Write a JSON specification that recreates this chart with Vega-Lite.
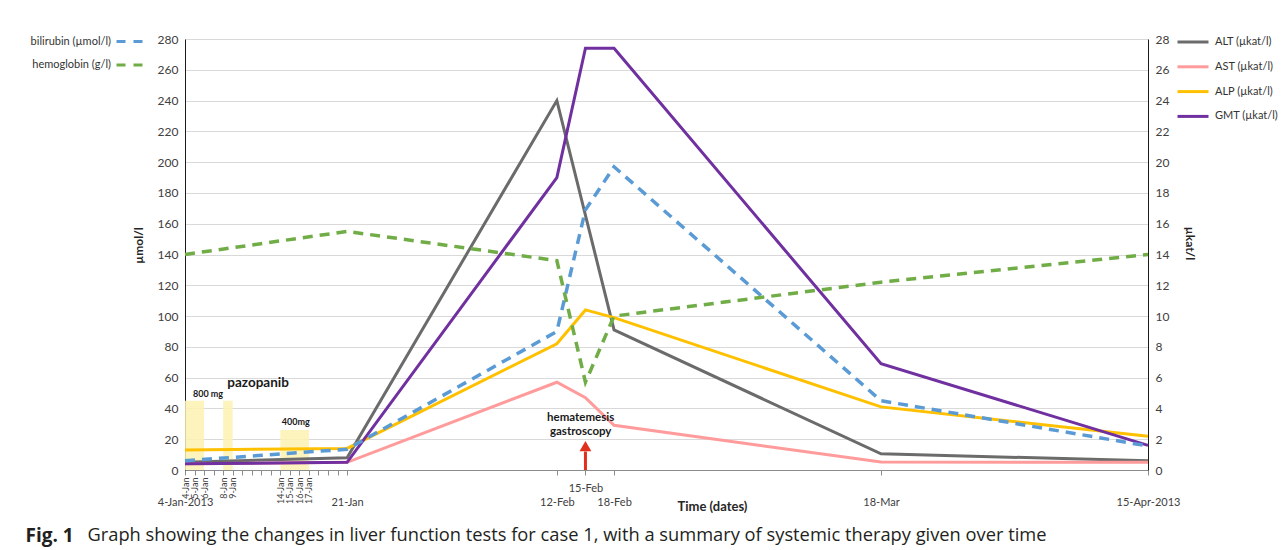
{
  "$schema": "https://vega.github.io/schema/vega-lite/v6.json",
  "width": 963,
  "height": 431,
  "autosize": {"type": "none"},
  "padding": {"left": 185, "top": 39, "right": 139, "bottom": 80},
  "background": "white",
  "config": {
    "view": {"stroke": null},
    "font": "Lato",
    "axis": {"labelColor": "#404040", "labelFont": "Lato", "titleColor": "#262626"},
    "legend": {"labelFont": "Lato"}
  },
  "datasets": {
    "left": [
      {"date": "2013-01-04", "test": "bilirubin (µmol/l)", "value": 6},
      {"date": "2013-01-21", "test": "bilirubin (µmol/l)", "value": 13.5},
      {"date": "2013-02-12", "test": "bilirubin (µmol/l)", "value": 90},
      {"date": "2013-02-15", "test": "bilirubin (µmol/l)", "value": 169},
      {"date": "2013-02-18", "test": "bilirubin (µmol/l)", "value": 197},
      {"date": "2013-03-18", "test": "bilirubin (µmol/l)", "value": 45},
      {"date": "2013-04-15", "test": "bilirubin (µmol/l)", "value": 15.6},
      {"date": "2013-01-04", "test": "hemoglobin (g/l)", "value": 140},
      {"date": "2013-01-21", "test": "hemoglobin (g/l)", "value": 155},
      {"date": "2013-02-12", "test": "hemoglobin (g/l)", "value": 136},
      {"date": "2013-02-15", "test": "hemoglobin (g/l)", "value": 57},
      {"date": "2013-02-18", "test": "hemoglobin (g/l)", "value": 100},
      {"date": "2013-03-18", "test": "hemoglobin (g/l)", "value": 122},
      {"date": "2013-04-15", "test": "hemoglobin (g/l)", "value": 140}
    ],
    "right": [
      {"date": "2013-01-04", "test": "ALT (µkat/l)", "value": 0.5},
      {"date": "2013-01-21", "test": "ALT (µkat/l)", "value": 0.8},
      {"date": "2013-02-12", "test": "ALT (µkat/l)", "value": 24},
      {"date": "2013-02-18", "test": "ALT (µkat/l)", "value": 9.1},
      {"date": "2013-03-18", "test": "ALT (µkat/l)", "value": 1.05},
      {"date": "2013-04-15", "test": "ALT (µkat/l)", "value": 0.6},
      {"date": "2013-01-04", "test": "AST (µkat/l)", "value": 0.4},
      {"date": "2013-01-21", "test": "AST (µkat/l)", "value": 0.5},
      {"date": "2013-02-12", "test": "AST (µkat/l)", "value": 5.7},
      {"date": "2013-02-15", "test": "AST (µkat/l)", "value": 4.7},
      {"date": "2013-02-18", "test": "AST (µkat/l)", "value": 2.9},
      {"date": "2013-03-18", "test": "AST (µkat/l)", "value": 0.52},
      {"date": "2013-04-15", "test": "AST (µkat/l)", "value": 0.5},
      {"date": "2013-01-04", "test": "ALP (µkat/l)", "value": 1.3},
      {"date": "2013-01-21", "test": "ALP (µkat/l)", "value": 1.4},
      {"date": "2013-02-12", "test": "ALP (µkat/l)", "value": 8.2},
      {"date": "2013-02-15", "test": "ALP (µkat/l)", "value": 10.4},
      {"date": "2013-02-18", "test": "ALP (µkat/l)", "value": 9.9},
      {"date": "2013-03-18", "test": "ALP (µkat/l)", "value": 4.1},
      {"date": "2013-04-15", "test": "ALP (µkat/l)", "value": 2.2},
      {"date": "2013-01-04", "test": "GMT (µkat/l)", "value": 0.4},
      {"date": "2013-01-21", "test": "GMT (µkat/l)", "value": 0.5},
      {"date": "2013-02-12", "test": "GMT (µkat/l)", "value": 19},
      {"date": "2013-02-15", "test": "GMT (µkat/l)", "value": 27.4},
      {"date": "2013-02-18", "test": "GMT (µkat/l)", "value": 27.4},
      {"date": "2013-03-18", "test": "GMT (µkat/l)", "value": 6.9},
      {"date": "2013-04-15", "test": "GMT (µkat/l)", "value": 1.6}
    ],
    "therapy": [
      {"start": "2013-01-04", "end": "2013-01-06", "dose": "800 mg", "level": 45},
      {"start": "2013-01-08", "end": "2013-01-09", "dose": "800 mg", "level": 45},
      {"start": "2013-01-14", "end": "2013-01-17", "dose": "400mg", "level": 26}
    ],
    "notes": [
      {"date": "2013-01-06T10:00:00Z", "value": 49.4, "label": "800 mg"},
      {"date": "2013-01-11T16:00:00Z", "value": 56.5, "label": "pazopanib"},
      {"date": "2013-01-15T15:00:00Z", "value": 31.2, "label": "400mg"},
      {"date": "2013-02-14T12:00:00Z", "value": 33.8, "label": "hematemesis\ngastroscopy"}
    ],
    "event": [
      {"date": "2013-02-15", "event": "hematemesis, gastroscopy"}
    ]
  },
  "layer": [
    {
      "data": {"name": "therapy"},
      "mark": {"type": "rect", "color": "#fdf1b0", "opacity": 0.85},
      "encoding": {
        "x": {
          "field": "start", "type": "temporal",
          "scale": {"type": "utc", "nice": false, "domain": [{"year": 2013, "month": 1, "date": 4, "utc": true}, {"year": 2013, "month": 4, "date": 15, "utc": true}]},
          "axis": {
            "orient": "bottom",
            "values": [
              {"year": 2013, "month": 1, "date": 4, "utc": true}, {"year": 2013, "month": 1, "date": 5, "utc": true},
              {"year": 2013, "month": 1, "date": 6, "utc": true}, {"year": 2013, "month": 1, "date": 7, "utc": true},
              {"year": 2013, "month": 1, "date": 8, "utc": true}, {"year": 2013, "month": 1, "date": 9, "utc": true},
              {"year": 2013, "month": 1, "date": 10, "utc": true}, {"year": 2013, "month": 1, "date": 11, "utc": true},
              {"year": 2013, "month": 1, "date": 12, "utc": true}, {"year": 2013, "month": 1, "date": 13, "utc": true},
              {"year": 2013, "month": 1, "date": 14, "utc": true}, {"year": 2013, "month": 1, "date": 15, "utc": true},
              {"year": 2013, "month": 1, "date": 16, "utc": true}, {"year": 2013, "month": 1, "date": 17, "utc": true},
              {"year": 2013, "month": 1, "date": 18, "utc": true}, {"year": 2013, "month": 1, "date": 19, "utc": true},
              {"year": 2013, "month": 1, "date": 20, "utc": true}, {"year": 2013, "month": 1, "date": 21, "utc": true},
              {"year": 2013, "month": 2, "date": 12, "utc": true}, {"year": 2013, "month": 2, "date": 15, "utc": true},
              {"year": 2013, "month": 2, "date": 18, "utc": true}, {"year": 2013, "month": 3, "date": 18, "utc": true},
              {"year": 2013, "month": 4, "date": 15, "utc": true}
            ],
            "labelExpr": "utcmonth(datum.value) == 0 && indexof([4,5,6,8,9,14,15,16,17], utcdate(datum.value)) >= 0 ? utcFormat(datum.value, '%-d-%b') : ''",
            "labelAngle": -90,
            "labelFontSize": 9,
            "labelPadding": 2,
            "labelOverlap": false,
            "labelFlush": false,
            "tickSize": 5,
            "tickColor": "#8c8c8c",
            "domainColor": "#8c8c8c",
            "grid": false,
            "title": "Time (dates)",
            "titleX": 527,
            "titleY": 36,
            "titleFontSize": 13,
            "titleFontWeight": "bold",
            "titleBaseline": "middle"
          }
        },
        "x2": {"field": "end"},
        "y": {
          "field": "level", "type": "quantitative",
          "scale": {"domain": [0, 280], "nice": false},
          "axis": {
            "values": [0, 20, 40, 60, 80, 100, 120, 140, 160, 180, 200, 220, 240, 260, 280],
            "grid": true, "gridColor": "#d9d9d9", "ticks": false,
            "domainColor": "#1a1a1a", "labelPadding": 7, "labelFontSize": 12,
            "title": "µmol/l", "titleX": -40, "titleY": 206, "titleFontSize": 12, "titleFontWeight": "bold"
          }
        },
        "y2": {"datum": 0}
      }
    },
    {
      "data": {"name": "right"},
      "mark": {"type": "line", "strokeWidth": 3},
      "encoding": {
        "x": {
          "field": "date", "type": "temporal",
          "scale": {"type": "utc", "nice": false, "domain": [{"year": 2013, "month": 1, "date": 4, "utc": true}, {"year": 2013, "month": 4, "date": 15, "utc": true}]},
          "axis": {
            "orient": "bottom",
            "values": [
              {"year": 2013, "month": 1, "date": 4, "utc": true}, {"year": 2013, "month": 1, "date": 21, "utc": true},
              {"year": 2013, "month": 2, "date": 12, "utc": true}, {"year": 2013, "month": 2, "date": 18, "utc": true},
              {"year": 2013, "month": 3, "date": 18, "utc": true}, {"year": 2013, "month": 4, "date": 15, "utc": true}
            ],
            "labelExpr": "utcmonth(datum.value) == 0 && utcdate(datum.value) == 4 ? '4-Jan-2013' : utcmonth(datum.value) == 3 ? '15-Apr-2013' : utcFormat(datum.value, '%-d-%b')",
            "ticks": false, "domain": false, "grid": false,
            "labelPadding": 26, "labelFontSize": 11, "labelFlush": false, "labelOverlap": false,
            "title": "Fig. 1", "titleX": -160, "titleY": 65, "titleAlign": "left", "titleAnchor": "start",
            "titleBaseline": "middle", "titleFont": "Open Sans", "titleFontSize": 19, "titleFontWeight": "bold", "titleColor": "#231f20"
          }
        },
        "y": {
          "field": "value", "type": "quantitative",
          "scale": {"domain": [0, 28], "nice": false},
          "axis": {
            "orient": "right",
            "values": [0, 2, 4, 6, 8, 10, 12, 14, 16, 18, 20, 22, 24, 26, 28],
            "grid": false, "ticks": false, "domainColor": "#1a1a1a", "labelPadding": 7, "labelFontSize": 12,
            "title": "µkat/l", "titleAngle": 90, "titleX": 34, "titleY": 204, "titleFontSize": 12, "titleFontWeight": "bold"
          }
        },
        "color": {
          "field": "test", "type": "nominal",
          "scale": {"domain": ["ALT (µkat/l)", "AST (µkat/l)", "ALP (µkat/l)", "GMT (µkat/l)"], "range": ["#6b6b6b", "#ff9b9b", "#ffc000", "#7030a0"]},
          "legend": {
            "orient": "none", "legendX": 991, "legendY": -14, "title": null, "padding": 0,
            "symbolType": "stroke", "symbolSize": 961, "symbolStrokeWidth": 3,
            "labelOffset": 5, "labelFontSize": 11, "labelColor": "#333333", "rowPadding": 1.8,
            "encode": {"symbols": {"update": {"stroke": {"signal": "datum.value == 'ALP (µkat/l)' ? '#ed7d31' : datum.value == 'ALT (µkat/l)' ? '#6b6b6b' : datum.value == 'AST (µkat/l)' ? '#ff9b9b' : '#7030a0'"}}}}
          }
        }
      }
    },
    {
      "data": {"name": "left"},
      "mark": {"type": "line", "strokeWidth": 3.5, "strokeDash": [10, 7]},
      "encoding": {
        "x": {
          "field": "date", "type": "temporal",
          "scale": {"type": "utc", "nice": false, "domain": [{"year": 2013, "month": 1, "date": 4, "utc": true}, {"year": 2013, "month": 4, "date": 15, "utc": true}]},
          "axis": {
            "orient": "bottom",
            "values": [{"year": 2013, "month": 2, "date": 15, "utc": true}],
            "labelExpr": "utcFormat(datum.value, '%-d-%b')",
            "ticks": false, "domain": false, "grid": false,
            "labelPadding": 12, "labelFontSize": 11, "labelFlush": false, "labelOverlap": false,
            "title": "Graph showing the changes in liver function tests for case 1, with a summary of systemic therapy given over time",
            "titleX": -98, "titleY": 65, "titleAlign": "left", "titleAnchor": "start", "titleLimit": 2000,
            "titleBaseline": "middle", "titleFont": "Open Sans", "titleFontSize": 18.3, "titleFontWeight": "normal", "titleColor": "#231f20"
          }
        },
        "y": {"field": "value", "type": "quantitative", "scale": {"domain": [0, 280], "nice": false}, "axis": null},
        "stroke": {
          "field": "test", "type": "nominal",
          "scale": {"domain": ["bilirubin (µmol/l)", "hemoglobin (g/l)"], "range": ["#5b9bd5", "#70ad47"]},
          "legend": {
            "orient": "none", "legendX": -70, "legendY": -12, "title": null, "padding": 0,
            "symbolType": "stroke", "symbolSize": 676, "symbolStrokeWidth": 3, "symbolDash": [9, 8],
            "labelAlign": "right", "labelOffset": -33, "labelFontSize": 11, "labelColor": "#333333", "rowPadding": 2.5
          }
        }
      }
    },
    {
      "data": {"name": "notes"},
      "mark": {"type": "text", "fontWeight": "bold", "color": "#1a1a1a", "lineBreak": "\n", "lineHeight": 14, "baseline": "middle"},
      "encoding": {
        "x": {"field": "date", "type": "temporal", "scale": {"type": "utc", "nice": false, "domain": [{"year": 2013, "month": 1, "date": 4, "utc": true}, {"year": 2013, "month": 4, "date": 15, "utc": true}]}, "axis": null},
        "y": {"field": "value", "type": "quantitative", "scale": {"domain": [0, 280], "nice": false}, "axis": null},
        "text": {"field": "label"},
        "size": {"condition": [{"test": "datum.label == 'pazopanib'", "value": 13.5}, {"test": "indexof(datum.label, 'hematemesis') >= 0", "value": 11.5}], "value": 9}
      }
    },
    {
      "data": {"name": "event"},
      "mark": {"type": "rule", "color": "#e0301e", "strokeWidth": 3},
      "encoding": {
        "x": {"field": "date", "type": "temporal", "scale": {"type": "utc", "nice": false, "domain": [{"year": 2013, "month": 1, "date": 4, "utc": true}, {"year": 2013, "month": 4, "date": 15, "utc": true}]}, "axis": null},
        "y": {"datum": 0, "type": "quantitative", "scale": {"domain": [0, 280], "nice": false}, "axis": null},
        "y2": {"datum": 12}
      }
    },
    {
      "data": {"name": "event"},
      "mark": {"type": "point", "shape": "triangle-up", "filled": true, "color": "#e0301e", "opacity": 1, "size": 140},
      "encoding": {
        "x": {"field": "date", "type": "temporal", "scale": {"type": "utc", "nice": false, "domain": [{"year": 2013, "month": 1, "date": 4, "utc": true}, {"year": 2013, "month": 4, "date": 15, "utc": true}]}, "axis": null},
        "y": {"datum": 15.5, "type": "quantitative", "scale": {"domain": [0, 280], "nice": false}, "axis": null}
      }
    }
  ],
  "resolve": {"scale": {"y": "independent"}, "axis": {"x": "independent", "y": "independent"}}
}
